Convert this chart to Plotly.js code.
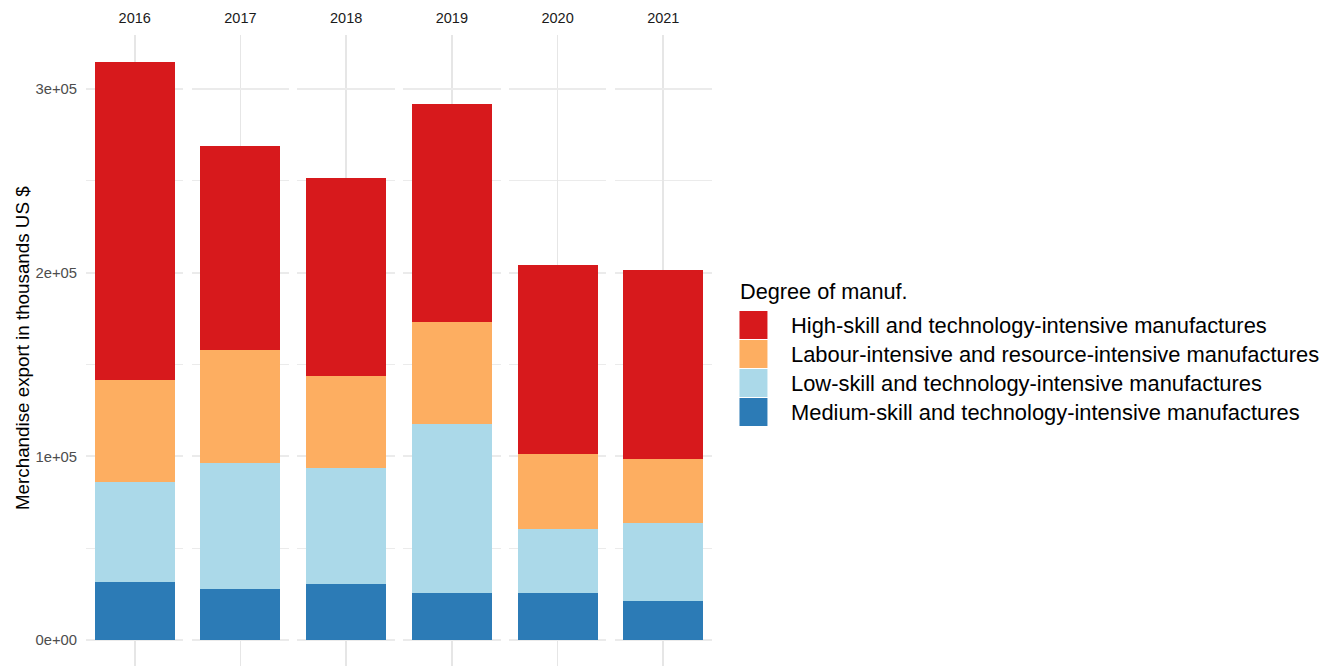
<!DOCTYPE html>
<html>
<head>
<meta charset="utf-8">
<script src="https://cdn.plot.ly/plotly-3.0.1.min.js"></script>
<style>html,body{margin:0;padding:0;background:#fff;}#chart{width:1322px;height:666px;}</style>
</head>
<body>
<div id="chart"></div>
<script>
// ---- data (thousands US $ converted to units) ----
const years = ['2016', '2017', '2018', '2019', '2020', '2021'];
const seriesNames = [
  'Medium-skill and technology-intensive manufactures',
  'Low-skill and technology-intensive manufactures',
  'Labour-intensive and resource-intensive manufactures',
  'High-skill and technology-intensive manufactures'
];
const mediumSkill = [31600, 27800, 30500, 25600, 25400, 21100];
const lowSkill = [54400, 68600, 63200, 91900, 34900, 42600];
const labourIntensive = [55300, 61700, 49800, 55500, 41000, 34800];
const highSkill = [173200, 111000, 108200, 119100, 102900, 102800];
const seriesColors = ['#2c7bb6', '#abd9e9', '#fdae61', '#d7191c'];
const yTickVals = [0, 100000, 200000, 300000];
const yTickText = ['0e+00', '1e+05', '2e+05', '3e+05'];
const yMinorVals = [50000, 150000, 250000];
const legendTitle = 'Degree of manuf.';
const yTitle = 'Merchandise export in thousands US $';

const seriesValues = [mediumSkill, lowSkill, labourIntensive, highSkill];

// ---- geometry ----
const W = 1322, H = 666;
const M = {l: 86, r: W - 712.5, t: 35, b: 0};
const plotW = W - M.l - M.r, plotH = H - M.t - M.b;
const panelStep = 105.8, panelW = 97.5;
const px2x = p => (p - M.l) / plotW;
const px2y = p => (H - M.b - p) / plotH;
const pxPerUnit = 183.67 / 100000;
const yRange = [-(H - M.b - 640) / pxPerUnit, (640 - M.t) / pxPerUnit];

const font = '"Liberation Sans", Arial, Helvetica, sans-serif';

const traces = [];
seriesValues.forEach((vals, s) => {
  years.forEach((yr, i) => {
    traces.push({
      type: 'bar',
      x: [yr],
      y: [vals[i]],
      xaxis: i === 0 ? 'x' : 'x' + (i + 1),
      yaxis: 'y',
      name: seriesNames[s],
      width: 0.985,
      marker: {color: seriesColors[s], line: {width: 0}},
      showlegend: false,
      hoverinfo: 'skip'
    });
  });
});

const layout = {
  width: W, height: H,
  margin: M,
  paper_bgcolor: '#ffffff',
  plot_bgcolor: 'rgba(0,0,0,0)',
  barmode: 'stack',
  showlegend: false,
  font: {family: font, color: '#000000'},
  yaxis: {
    anchor: 'x',
    range: yRange,
    tickmode: 'array',
    tickvals: yTickVals,
    ticktext: yTickText,
    tickfont: {family: font, size: 14.8, color: '#4d4d4d'},
    ticks: '',
    ticklabelstandoff: 8,
    showgrid: true,
    gridcolor: '#ebebeb',
    gridwidth: 2,
    zeroline: false,
    showline: false,
    minor: {tickmode: 'array', tickvals: yMinorVals, showgrid: true, gridcolor: '#ebebeb', gridwidth: 1, ticks: ''},
    fixedrange: true
  },
  annotations: [],
  shapes: []
};

years.forEach((yr, i) => {
  const left = M.l + i * panelStep;
  const key = i === 0 ? 'xaxis' : 'xaxis' + (i + 1);
  layout[key] = {
    type: 'category',
    domain: [px2x(left), px2x(left + panelW)],
    anchor: 'y',
    side: 'top',
    range: [-0.6, 0.6],
    tickfont: {family: font, size: 14.5, color: '#1a1a1a'},
    ticks: '',
    ticklabelstandoff: 8,
    showgrid: true,
    gridcolor: '#e6e6e6',
    gridwidth: 1.6,
    zeroline: false,
    showline: false,
    fixedrange: true
  };
});

// y axis title
layout.annotations.push({
  xref: 'paper', yref: 'paper', x: px2x(22), y: px2y(348),
  text: yTitle, textangle: -90, showarrow: false,
  xanchor: 'center', yanchor: 'middle',
  font: {family: font, size: 18.8, color: '#000000'}
});

// legend (drawn in paper space)
layout.annotations.push({
  xref: 'paper', yref: 'paper', x: px2x(739), y: px2y(291),
  text: legendTitle, showarrow: false, xanchor: 'left', yanchor: 'middle',
  font: {family: font, size: 21.7, color: '#000000'}
});
const legendOrder = [3, 2, 1, 0];
legendOrder.forEach((s, r) => {
  const top = 311 + r * 29;
  layout.shapes.push({
    type: 'rect', xref: 'paper', yref: 'paper',
    x0: px2x(740), x1: px2x(768), y0: px2y(top), y1: px2y(top + 28),
    fillcolor: seriesColors[s], line: {width: 0}
  });
  layout.annotations.push({
    xref: 'paper', yref: 'paper', x: px2x(790), y: px2y(top + 14),
    text: seriesNames[s], showarrow: false, xanchor: 'left', yanchor: 'middle',
    font: {family: font, size: 21.9, color: '#000000'}
  });
});

Plotly.newPlot('chart', traces, layout, {staticPlot: true, displayModeBar: false});
</script>
</body>
</html>
